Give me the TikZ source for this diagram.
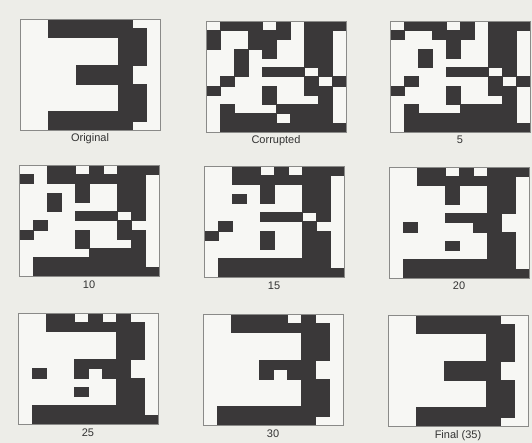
\documentclass[tikz,border=0pt]{standalone}
\usepackage{fontspec}
\setmainfont{Liberation Sans}
\definecolor{paper}{HTML}{EDEDE8}
\definecolor{ink}{HTML}{3A3839}
\definecolor{cellw}{HTML}{F7F7F4}
\definecolor{framec}{HTML}{8A8A88}
\tikzset{
  cellb/.style={fill=ink, draw=ink, line width=0.35pt},
  frame/.style={draw=framec, line width=0.6pt, minimum width=140pt, minimum height=111pt, inner sep=0pt, outer sep=0pt},
  lbl/.style={font=\fontsize{11}{13}\selectfont, text=black!80, inner sep=0pt, anchor=base}
}
\newcommand\drawpanel[5]{%
  \begin{scope}[shift={(#2,#3)}]
    \fill[cellw] (0,0) rectangle (140,111);
    \foreach \r/\cs in {#5} {
      \foreach \c in \cs {
        \fill[cellb] (\c*14, \r*9.25) rectangle ++(14,9.25);
      }
    }
  \end{scope}
  \node[frame, anchor=north west] (#1) at (#2,#3) {};
  \node[lbl] (#1-l) at ([yshift=-12pt]#1.south) {#4};
}
\begin{document}
\begin{tikzpicture}[x=1pt,y=-1pt]
\fill[paper] (0,0) rectangle (532,443);
\useasboundingbox (0,0) rectangle (532,443);

% Original
\drawpanel{orig}{20}{19}{Original}{0/{2,3,4,5,6,7},1/{2,3,4,5,6,7,8},2/{7,8},3/{7,8},4/{7,8},5/{4,5,6,7},6/{4,5,6,7},7/{7,8},8/{7,8},9/{7,8},10/{2,3,4,5,6,7,8},11/{2,3,4,5,6,7}}

% Corrupted
\drawpanel{corr}{206}{21}{Corrupted}{0/{1,2,3,5,7,8,9},1/{0,3,4,5,7,8},2/{0,3,4,7,8},3/{2,4,7,8},4/{2,7,8},5/{2,4,5,6,8},6/{1,7,9},7/{0,4,7,8},8/{4,8},9/{1,5,6,7,8},10/{1,2,3,4,6,7,8},11/{1,2,3,4,5,6,7,8,9}}

% 5
\drawpanel{it5}{390}{21}{5}{0/{1,2,3,5,7,8,9},1/{0,3,4,5,7,8},2/{4,7,8},3/{2,4,7,8},4/{2,7,8},5/{4,5,6,8},6/{1,7,9},7/{0,4,7,8},8/{4,8},9/{1,5,6,7,8},10/{1,2,3,4,5,6,7,8},11/{1,2,3,4,5,6,7,8,9}}

% 10
\drawpanel{it10}{19}{165}{10}{0/{2,3,5,7,8,9},1/{0,2,3,4,5,6,7,8},2/{4,7,8},3/{2,4,7,8},4/{2,7,8},5/{4,5,6,8},6/{1,7},7/{0,4,7,8},8/{4,8},9/{5,6,7,8},10/{1,2,3,4,5,6,7,8},11/{1,2,3,4,5,6,7,8,9}}

% 15
\drawpanel{it15}{204}{166}{15}{0/{2,3,5,7,8,9},1/{2,3,4,5,6,7,8},2/{4,7,8},3/{2,4,7,8},4/{7,8},5/{4,5,6,8},6/{1,7},7/{0,4,7,8},8/{4,7,8},9/{7,8},10/{1,2,3,4,5,6,7,8},11/{1,2,3,4,5,6,7,8,9}}

% 20
\drawpanel{it20}{389}{167}{20}{0/{2,3,5,7,8,9},1/{2,3,4,5,6,7,8},2/{4,7,8},3/{4,7,8},4/{7,8},5/{4,5,6,7},6/{1,6,7},7/{7,8},8/{4,7,8},9/{7,8},10/{1,2,3,4,5,6,7,8},11/{1,2,3,4,5,6,7,8,9}}

% 25
\drawpanel{it25}{18}{313}{25}{0/{2,3,5,7},1/{2,3,4,5,6,7,8},2/{7,8},3/{7,8},4/{7,8},5/{4,5,6,7},6/{1,4,6,7},7/{7,8},8/{4,7,8},9/{7,8},10/{1,2,3,4,5,6,7,8},11/{1,2,3,4,5,6,7,8,9}}

% 30
\drawpanel{it30}{203}{314}{30}{0/{2,3,4,5,7},1/{2,3,4,5,6,7,8},2/{7,8},3/{7,8},4/{7,8},5/{4,5,6,7},6/{4,6,7},7/{7,8},8/{7,8},9/{7,8},10/{1,2,3,4,5,6,7,8},11/{1,2,3,4,5,6,7}}

% Final
\drawpanel{fin}{388}{315}{Final (35)}{0/{2,3,4,5,6,7},1/{2,3,4,5,6,7,8},2/{7,8},3/{7,8},4/{7,8},5/{4,5,6,7},6/{4,5,6,7},7/{7,8},8/{7,8},9/{7,8},10/{2,3,4,5,6,7,8},11/{2,3,4,5,6,7}}
\end{tikzpicture}
\end{document}
